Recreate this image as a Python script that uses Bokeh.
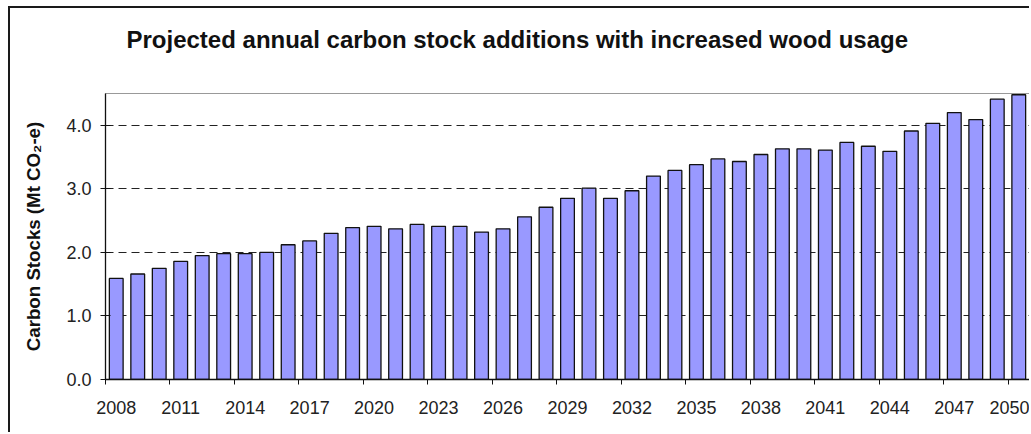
from bokeh.plotting import figure
from bokeh.models import FixedTicker, NumeralTickFormatter
from bokeh.embed import file_html
from bokeh.resources import INLINE

# Annual carbon stock additions (Mt CO2-e), one bar per year
years = list(range(2008, 2051))
stocks = [1.59, 1.66, 1.75, 1.86, 1.95, 1.98, 1.98, 2.00, 2.12, 2.18, 2.30, 2.39,
          2.41, 2.37, 2.44, 2.41, 2.41, 2.32, 2.37, 2.56, 2.71, 2.85, 3.01, 2.85,
          2.97, 3.20, 3.29, 3.38, 3.47, 3.43, 3.54, 3.63, 3.63, 3.61, 3.73, 3.67,
          3.59, 3.91, 4.03, 4.20, 4.09, 4.41, 4.48]
y_ticks = [0, 1, 2, 3, 4]
label_every = 3
title_text = "Projected annual carbon stock additions with increased wood usage"

idx = list(range(len(years)))
label_idx = idx[::label_every]
boundaries = [i - 0.5 for i in label_idx]

FONT = "Liberation Sans"

p = figure(width=1021, height=426,
           x_range=(-0.5, len(years) - 0.5), y_range=(0, 4.5),
           output_backend="svg", toolbar_location=None,
           min_border_left=95, min_border_right=2,
           min_border_top=85, min_border_bottom=55)

p.styles = {"margin-left": "8px", "margin-top": "6px",
            "border-top": "2px solid #1a1a1a", "border-left": "2px solid #1a1a1a"}

# heading with an empty second line, which lifts it clear of the frame
p.title.text = title_text + "\n"
p.title.text_font = FONT
p.title.text_font_size = "24px"
p.title.text_font_style = "bold"
p.title.text_color = "#111111"
p.title.align = "left"
p.title.offset = 21
p.title.standoff = 27

p.vbar(x=idx, top=stocks, width=0.64, fill_color="#9999FF",
       line_color="#111111", line_width=1.3)

p.outline_line_color = "#999999"
p.outline_line_width = 1
p.xgrid.visible = False
p.ygrid.grid_line_color = "#222222"
p.ygrid.grid_line_dash = "8 5"
p.ygrid.grid_line_width = 1

# y axis: one decimal, ticks crossing the axis line
p.yaxis.ticker = FixedTicker(ticks=y_ticks)
p.yaxis.formatter = NumeralTickFormatter(format="0.0")
p.yaxis.minor_tick_line_color = None
p.yaxis.major_tick_in = 5
p.yaxis.major_tick_out = 5
p.yaxis.major_label_standoff = 9
p.yaxis.axis_label = "Carbon Stocks (Mt CO\u2082-e)"
p.yaxis.axis_label_text_font = FONT
p.yaxis.axis_label_text_font_size = "18.7px"
p.yaxis.axis_label_text_font_style = "bold"
p.yaxis.axis_label_text_color = "#111111"
p.yaxis.axis_label_standoff = 19

# x axis: year labels on every third bar, tick marks between categories
p.xaxis.ticker = FixedTicker(ticks=label_idx, minor_ticks=boundaries)
p.xaxis.major_label_overrides = {i: str(years[i]) for i in label_idx}
p.xaxis.major_tick_in = 0
p.xaxis.major_tick_out = 0
p.xaxis.minor_tick_in = 0
p.xaxis.minor_tick_out = 5
p.xaxis.minor_tick_line_color = "#111111"
p.xaxis.major_label_standoff = 16

for ax in (p.xaxis, p.yaxis):
    ax.axis_line_color = "#111111"
    ax.axis_line_width = 1.3
    ax.major_tick_line_color = "#111111"
    ax.major_label_text_font = FONT
    ax.major_label_text_font_size = "18px"
    ax.major_label_text_color = "#222222"

open("out.html", "w").write(file_html(p, INLINE))
